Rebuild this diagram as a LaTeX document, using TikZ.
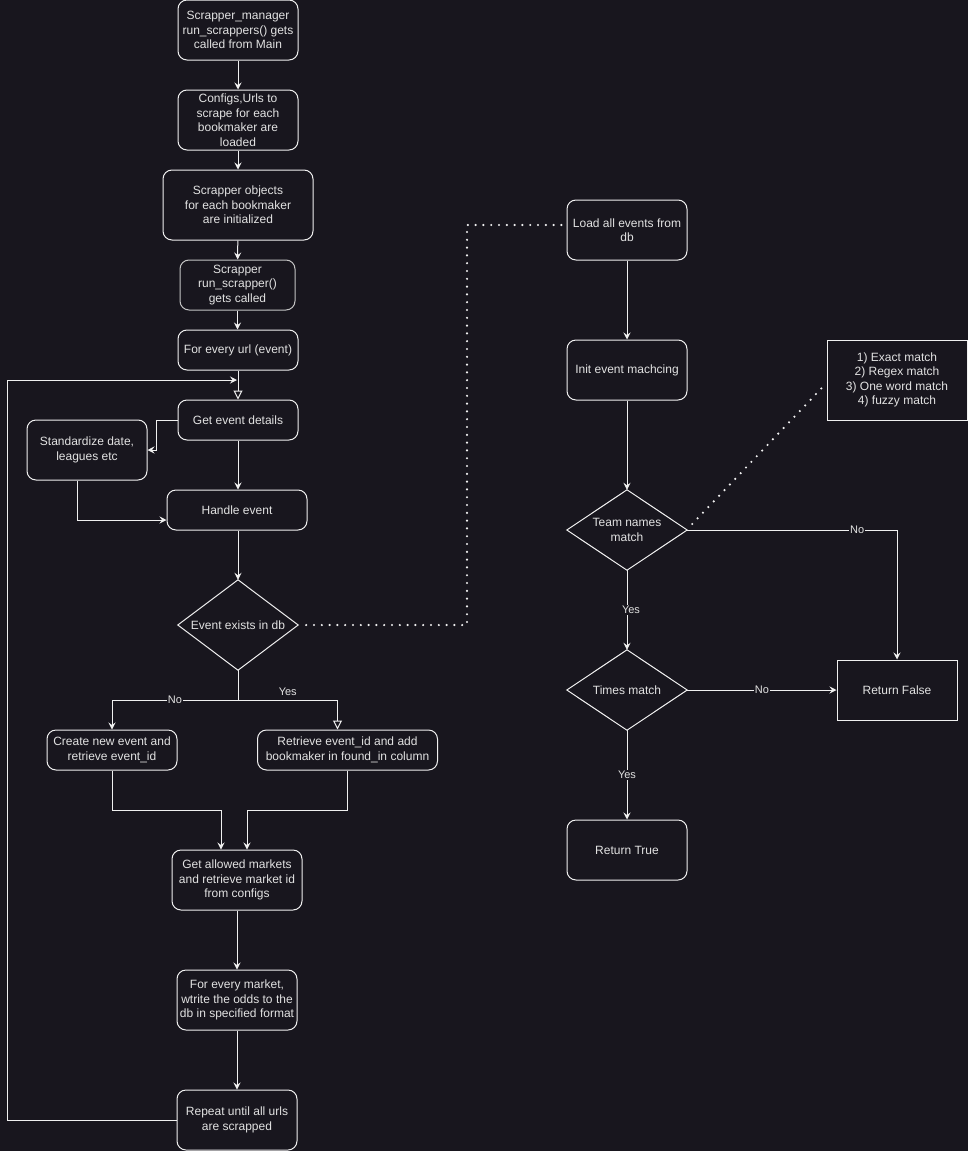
\documentclass[tikz,border=0pt]{standalone}
\usepackage{fontspec}
\setmainfont{Liberation Sans}
\usetikzlibrary{arrows.meta,shapes.geometric}
\definecolor{bg}{HTML}{18161E}
\definecolor{lc}{HTML}{F0F0F0}
\definecolor{tc}{HTML}{E2E2E2}
\definecolor{gc}{HTML}{C4C4C4}
\newcommand\nodefnt{\fontsize{12}{14.5}\selectfont}
\newcommand\labfnt{\fontsize{11}{13}\selectfont}
\tikzset{
  box/.style={draw=lc, rounded corners=9pt, line width=1pt, text=tc, align=center, font=\nodefnt, inner sep=2pt},
  sqbox/.style={draw=lc, line width=1pt, text=tc, align=center, font=\nodefnt, inner sep=2pt},
  dia/.style={draw=none, text=tc, align=center, font=\nodefnt, inner sep=0pt, minimum width=120pt},
  arr/.style={draw=lc, line width=1pt, -{Stealth[length=7pt,width=7pt,inset=2.5pt]}},
  oarr/.style={draw=lc, line width=1pt, -{Triangle[open,length=9pt,width=9pt,fill=bg]}},
  dotl/.style={draw=lc, line width=2.4pt, line cap=round, dash pattern=on 0pt off 7.8pt},
  lbl/.style={fill=bg, text=tc, font=\labfnt, inner sep=1pt},
}
\begin{document}
\begin{tikzpicture}[x=1pt,y=-1pt]
\fill[bg] (0,0) rectangle (968,1151);
\useasboundingbox (0,0) rectangle (968,1151);

% left column
\node[box, minimum width=120pt, minimum height=60pt] (n1) at (238,30) {Scrapper\_manager\\run\_scrappers() gets\\called from Main};
\node[box, minimum width=120pt, minimum height=60pt] (n2) at (238,120) {Configs,Urls to\\scrape for each\\bookmaker are\\loaded};
\node[box, minimum width=150pt, minimum height=70pt] (n3) at (238,205) {Scrapper objects\\for each bookmaker\\are initialized};
\node[box, draw=gc, minimum width=115pt, minimum height=50pt] (n4) at (237.5,285) {Scrapper\\run\_scrapper()\\gets called};
\node[box, minimum width=120pt, minimum height=40pt] (n5) at (238,350) {For every url (event)};
\node[box, minimum width=120pt, minimum height=40pt] (n6) at (238,420) {Get event details};
\node[box, minimum width=120pt, minimum height=60pt] (n7) at (87,450) {Standardize date,\\leagues etc};
\node[box, minimum width=140pt, minimum height=40pt] (n8) at (237,510) {Handle event};
\node[dia, minimum height=90pt] (n9) at (238,625) {Event exists in db};
\draw[lc, line width=1pt] (n9.north) -- (n9.east) -- (n9.south) -- (n9.west) -- cycle;
\node[box, minimum width=130pt, minimum height=40pt] (n10) at (112,750) {Create new event and\\retrieve event\_id};
\node[box, minimum width=180pt, minimum height=40pt] (n11) at (347.5,750) {Retrieve event\_id and add\\bookmaker in found\_in column};
\node[box, minimum width=130pt, minimum height=60pt] (n12) at (237,880) {Get allowed markets\\and retrieve market id\\from configs};
\node[box, minimum width=120pt, minimum height=60pt] (n13) at (237,1000) {For every market,\\wtrite the odds to the\\db in specified format};
\node[box, minimum width=120pt, minimum height=60pt] (n14) at (237,1120) {Repeat until all urls\\are scrapped};

% right column
\node[box, minimum width=120pt, minimum height=60pt] (n15) at (627,230) {Load all events from\\db};
\node[box, minimum width=120pt, minimum height=60pt] (n16) at (627,370) {Init event machcing};
\node[dia, minimum height=80pt] (n17) at (627,530) {Team names\\match};
\draw[lc, line width=1pt] (n17.north) -- (n17.east) -- (n17.south) -- (n17.west) -- cycle;
\node[dia, minimum height=80pt] (n18) at (627,690) {Times match};
\draw[lc, line width=1pt] (n18.north) -- (n18.east) -- (n18.south) -- (n18.west) -- cycle;
\node[box, minimum width=120pt, minimum height=60pt] (n19) at (627,850) {Return True};
\node[sqbox, minimum width=120pt, minimum height=60pt] (n20) at (897,690) {Return False};
\node[sqbox, minimum width=140pt, minimum height=80pt] (n21) at (897,380) {1) Exact match\\2) Regex match\\3) One word match\\4) fuzzy match};

% left connectors
\draw[arr] (n1) -- (n2);
\draw[arr] (n2) -- (n3);
\draw[arr] (n3) -- (n4);
\draw[arr] (n4.south) -- (n5.north -| n4.south);
\draw[oarr] (n5) -- (n6);
\coordinate (loopl) at (7,1120);
\coordinate (loopend) at (237,380);
\draw[arr] (n14.west) -- (loopl) |- (loopend);
\draw[arr] (n6.west) -- ++(-21,0) |- (n7.east);
\draw[arr] ([xshift=-10pt]n7.south) |- ([yshift=-10pt]n8.west);
\draw[arr] (n6) -- (n8.north -| n6.south);
\draw[arr] (n8.south -| n9.north) -- (n9.north);
\coordinate (split) at (238,700);
\draw[lc, line width=1pt] (n9.south) -- (split);
\draw[arr] (split) -| node[lbl, pos=0.25] {No} (n10.north);
\draw[oarr] (split) -| node[text=tc, font=\labfnt, inner sep=1pt, pos=0.25, above, yshift=3pt] {Yes} ([xshift=-10pt]n11.north);
\draw[arr] (n10.south) -- ++(0,40) -| ([xshift=-16pt]n12.north);
\draw[arr] (n11.south) -- ++(0,40) -| ([xshift=10pt]n12.north);
\draw[arr] (n12) -- (n13);
\draw[arr] (n13) -- (n14);
\draw[dotl] ([xshift=8pt]n9.east) -- (467,625) |- ([yshift=5pt,xshift=-3pt]n15.west);

% right connectors
\draw[arr] (n15) -- (n16);
\draw[arr] (n16.south) -- (n17.north);
\draw[arr] (n17.east) -| node[lbl, pos=0.405] {No} (n20.north);
\draw[arr] (n17.south) -- node[lbl, xshift=4pt] {Yes} (n18.north);
\draw[arr] (n18.east) -- node[lbl] {No} (n20.west);
\draw[arr] (n18.south) -- node[lbl] {Yes} (n19.north);
\draw[dotl] ([xshift=5pt,yshift=6pt]n17.east) -- ([yshift=-3pt]n21.west);
\end{tikzpicture}
\end{document}
